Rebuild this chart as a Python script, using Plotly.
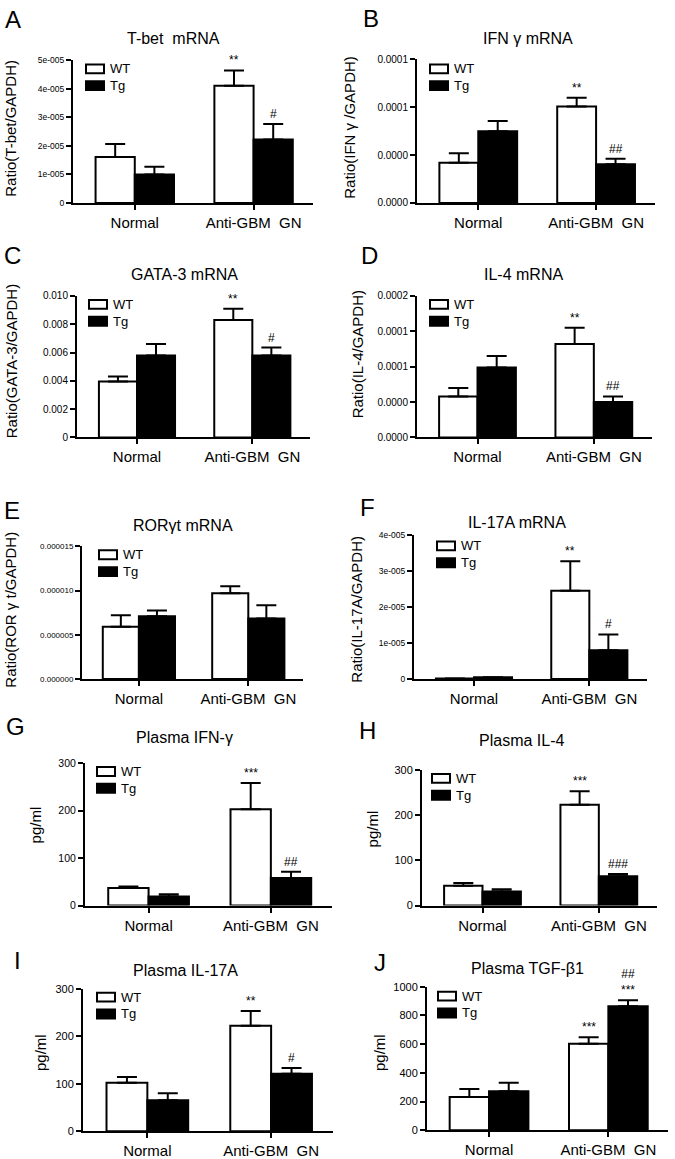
import plotly.graph_objects as go

W, H = 675, 1159

categories = ["Normal", "Anti-GBM\u00a0 GN"]

# ---- data ----
tbet_wt = [1.61e-5, 4.11e-5]; tbet_wt_err = [0.46e-5, 0.54e-5]
tbet_tg = [1.00e-5, 2.23e-5]; tbet_tg_err = [0.27e-5, 0.54e-5]
tbet_sig_wt = ["", "**"]; tbet_sig_tg = ["", "#"]

ifng_wt = [3.37e-5, 8.07e-5]; ifng_wt_err = [0.78e-5, 0.72e-5]
ifng_tg = [6.00e-5, 3.23e-5]; ifng_tg_err = [0.86e-5, 0.47e-5]
ifng_sig_wt = ["", "**"]; ifng_sig_tg = ["", "##"]

gata3_wt = [0.00396, 0.0083]; gata3_wt_err = [0.00035, 0.0008]
gata3_tg = [0.0058, 0.0058]; gata3_tg_err = [0.0008, 0.00055]
gata3_sig_wt = ["", "**"]; gata3_sig_tg = ["", "#"]

il4m_wt = [5.8e-5, 1.32e-4]; il4m_wt_err = [1.2e-5, 2.3e-5]
il4m_tg = [9.9e-5, 5.0e-5]; il4m_tg_err = [1.6e-5, 0.8e-5]
il4m_sig_wt = ["", "**"]; il4m_sig_tg = ["", "##"]

rorgt_wt = [5.9e-6, 9.7e-6]; rorgt_wt_err = [1.3e-6, 0.8e-6]
rorgt_tg = [7.1e-6, 6.85e-6]; rorgt_tg_err = [0.65e-6, 1.5e-6]
rorgt_sig_wt = ["", ""]; rorgt_sig_tg = ["", ""]

il17m_wt = [1e-7, 2.46e-5]; il17m_wt_err = [0.0, 0.82e-5]
il17m_tg = [5e-7, 0.80e-5]; il17m_tg_err = [0.0, 0.44e-5]
il17m_sig_wt = ["", "**"]; il17m_sig_tg = ["", "#"]

pifng_wt = [37, 203]; pifng_wt_err = [3, 55]
pifng_tg = [19, 58]; pifng_tg_err = [5, 13]
pifng_sig_wt = ["", "***"]; pifng_sig_tg = ["", "##"]

pil4_wt = [44, 223]; pil4_wt_err = [6, 30]
pil4_tg = [31, 65]; pil4_tg_err = [5, 5]
pil4_sig_wt = ["", "***"]; pil4_sig_tg = ["", "###"]

pil17_wt = [102, 222]; pil17_wt_err = [12, 31]
pil17_tg = [65, 121]; pil17_tg_err = [15, 12]
pil17_sig_wt = ["", "**"]; pil17_sig_tg = ["", "#"]

ptgf_wt = [232, 602]; ptgf_wt_err = [55, 46]
ptgf_tg = [271, 864]; ptgf_tg_err = [60, 42]
ptgf_sig_wt = ["", "***"]; ptgf_sig_tg = ["", "##<br>***"]

# ---- tick labels ----
tbet_ticks = [0, 1e-5, 2e-5, 3e-5, 4e-5, 5e-5]
tbet_labels = ["0", "1e-005", "2e-005", "3e-005", "4e-005", "5e-005"]
ifng_ticks = [0, 4e-5, 8e-5, 1.2e-4]
ifng_labels = ["0.0000", "0.0000", "0.0001", "0.0001"]
gata3_ticks = [0, 0.002, 0.004, 0.006, 0.008, 0.010]
gata3_labels = ["0", "0.002", "0.004", "0.006", "0.008", "0.010"]
il4m_ticks = [0, 5e-5, 1e-4, 1.5e-4, 2e-4]
il4m_labels = ["0.0000", "0.0000", "0.0001", "0.0001", "0.0002"]
rorgt_ticks = [0, 5e-6, 1e-5, 1.5e-5]
rorgt_labels = ["0.000000", "0.000005", "0.000010", "0.000015"]
il17m_ticks = [0, 1e-5, 2e-5, 3e-5, 4e-5]
il17m_labels = ["0", "1e-005", "2e-005", "3e-005", "4e-005"]
pg300_ticks = [0, 100, 200, 300]
pg300_labels = ["0", "100", "200", "300"]
pg1000_ticks = [0, 200, 400, 600, 800, 1000]
pg1000_labels = ["0", "200", "400", "600", "800", "1000"]

FONT = "Liberation Sans, Arial, sans-serif"

panels = [
    dict(letter="A", title="T-bet\u00a0 mRNA", ytitle="Ratio(T-bet/GAPDH)",
         wt=tbet_wt, wte=tbet_wt_err, tg=tbet_tg, tge=tbet_tg_err, swt=tbet_sig_wt, stg=tbet_sig_tg,
         ymax=5e-5, tv=tbet_ticks, tt=tbet_labels, tf=8.5,
         box=(73, 313, 55, 199), lxy=(13, 14), txy=(173, 33), yxy=(11, 124), leg=(86, 59)),
    dict(letter="B", title="IFN γ mRNA", ytitle="Ratio(IFN γ /GAPDH)",
         wt=ifng_wt, wte=ifng_wt_err, tg=ifng_tg, tge=ifng_tg_err, swt=ifng_sig_wt, stg=ifng_sig_tg,
         ymax=1.2e-4, tv=ifng_ticks, tt=ifng_labels, tf=10,
         box=(417, 655, 54, 199), lxy=(371, 13), txy=(528, 33), yxy=(350, 123), leg=(430, 59)),
    dict(letter="C", title="GATA-3 mRNA", ytitle="Ratio(GATA-3/GAPDH)",
         wt=gata3_wt, wte=gata3_wt_err, tg=gata3_tg, tge=gata3_tg_err, swt=gata3_sig_wt, stg=gata3_sig_tg,
         ymax=0.010, tv=gata3_ticks, tt=gata3_labels, tf=10,
         box=(77, 310, 293, 436), lxy=(12, 252), txy=(184, 271), yxy=(11, 359), leg=(89, 297)),
    dict(letter="D", title="IL-4 mRNA", ytitle="Ratio(IL-4/GAPDH)",
         wt=il4m_wt, wte=il4m_wt_err, tg=il4m_tg, tge=il4m_tg_err, swt=il4m_sig_wt, stg=il4m_sig_tg,
         ymax=2e-4, tv=il4m_ticks, tt=il4m_labels, tf=10,
         box=(417, 652, 293, 436), lxy=(369, 252), txy=(523, 271), yxy=(357, 352), leg=(430, 297)),
    dict(letter="E", title="RORγt mRNA", ytitle="Ratio(ROR γ t/GAPDH)",
         wt=rorgt_wt, wte=rorgt_wt_err, tg=rorgt_tg, tge=rorgt_tg_err, swt=rorgt_sig_wt, stg=rorgt_sig_tg,
         ymax=1.5e-5, tv=rorgt_ticks, tt=rorgt_labels, tf=8,
         box=(82, 303, 546, 680), lxy=(12, 510), txy=(183, 525), yxy=(11, 610), leg=(99, 550)),
    dict(letter="F", title="IL-17A mRNA", ytitle="Ratio(IL-17A/GAPDH)",
         wt=il17m_wt, wte=il17m_wt_err, tg=il17m_tg, tge=il17m_tg_err, swt=il17m_sig_wt, stg=il17m_sig_tg,
         ymax=4e-5, tv=il17m_ticks, tt=il17m_labels, tf=8.5,
         box=(414, 647, 535, 680), lxy=(367, 507), txy=(517, 522), yxy=(357, 610), leg=(437, 541)),
    dict(letter="G", title="Plasma IFN-γ", ytitle="pg/ml",
         wt=pifng_wt, wte=pifng_wt_err, tg=pifng_tg, tge=pifng_tg_err, swt=pifng_sig_wt, stg=pifng_sig_tg,
         ymax=300, tv=pg300_ticks, tt=pg300_labels, tf=10.5,
         box=(85, 332, 765, 909), lxy=(15, 728), txy=(184, 739), yxy=(35, 828), leg=(97, 769)),
    dict(letter="H", title="Plasma IL-4", ytitle="pg/ml",
         wt=pil4_wt, wte=pil4_wt_err, tg=pil4_tg, tge=pil4_tg_err, swt=pil4_sig_wt, stg=pil4_sig_tg,
         ymax=300, tv=pg300_ticks, tt=pg300_labels, tf=11,
         box=(422, 657, 772, 909), lxy=(367, 732), txy=(521, 742), yxy=(372, 832), leg=(432, 776)),
    dict(letter="I", title="Plasma IL-17A", ytitle="pg/ml",
         wt=pil17_wt, wte=pil17_wt_err, tg=pil17_tg, tge=pil17_tg_err, swt=pil17_sig_wt, stg=pil17_sig_tg,
         ymax=300, tv=pg300_ticks, tt=pg300_labels, tf=11,
         box=(83, 333, 993, 1137), lxy=(17, 964), txy=(185, 975), yxy=(40, 1058), leg=(97, 997)),
    dict(letter="J", title="Plasma TGF-β1", ytitle="pg/ml",
         wt=ptgf_wt, wte=ptgf_wt_err, tg=ptgf_tg, tge=ptgf_tg_err, swt=ptgf_sig_wt, stg=ptgf_sig_tg,
         ymax=1000, tv=pg1000_ticks, tt=pg1000_labels, tf=11,
         box=(427, 668, 991, 1136), lxy=(380, 967), txy=(527, 973), yxy=(379, 1058), leg=(438, 996)),
]

BARGAP = 0.34
OFF = (1 - BARGAP) / 4  # centre offset of each bar within its group


def px(x):
    return x / W


def py(y):
    return 1 - y / H


fig = go.Figure()
annotations = []
shapes = []
layout = {}

for i, p in enumerate(panels):
    n = "" if i == 0 else str(i + 1)
    xref, yref = "x" + n, "y" + n
    x0, x1, y0, y1 = p["box"]
    xpos = list(range(len(categories)))

    fig.add_trace(go.Bar(
        x=xpos, y=p["wt"], xaxis=xref, yaxis=yref, name="WT", offsetgroup="wt",
        marker=dict(color="white", line=dict(color="black", width=2)),
        error_y=dict(type="data", symmetric=False, array=p["wte"], arrayminus=[0] * len(xpos),
                     color="black", thickness=2, width=10),
        showlegend=False, hoverinfo="skip"))
    fig.add_trace(go.Bar(
        x=xpos, y=p["tg"], xaxis=xref, yaxis=yref, name="Tg", offsetgroup="tg",
        marker=dict(color="black", line=dict(color="black", width=2)),
        error_y=dict(type="data", symmetric=False, array=p["tge"], arrayminus=[0] * len(xpos),
                     color="black", thickness=2, width=10),
        showlegend=False, hoverinfo="skip"))

    layout["xaxis" + n] = dict(
        domain=[px(x0), px(x1)], anchor=yref, range=[-0.52, 1.5],
        tickvals=xpos, ticktext=categories, ticks="outside", ticklen=5, tickwidth=2,
        tickcolor="black", showline=True, linecolor="black", linewidth=2,
        showgrid=False, zeroline=False, tickfont=dict(size=15, color="black", family=FONT),
        fixedrange=True)
    layout["yaxis" + n] = dict(
        domain=[py(y1), py(y0)], anchor=xref, range=[0, p["ymax"]],
        tickvals=p["tv"], ticktext=p["tt"], ticks="outside", ticklen=5, tickwidth=2,
        tickcolor="black", showline=True, linecolor="black", linewidth=2,
        showgrid=False, zeroline=False, tickfont=dict(size=p["tf"], color="black", family=FONT),
        fixedrange=True)

    # significance marks
    for j in xpos:
        if p["swt"][j]:
            annotations.append(dict(x=j - OFF, y=p["wt"][j] + p["wte"][j], xref=xref, yref=yref,
                                    text=p["swt"][j], showarrow=False, yanchor="bottom", yshift=1,
                                    font=dict(size=12, color="black", family=FONT)))
        if p["stg"][j]:
            annotations.append(dict(x=j + OFF, y=p["tg"][j] + p["tge"][j], xref=xref, yref=yref,
                                    text=p["stg"][j], showarrow=False, yanchor="bottom", yshift=1,
                                    font=dict(size=12, color="black", family=FONT)))

    # panel letter, title, y title
    lx, ly = p["lxy"]
    annotations.append(dict(x=px(lx), y=py(ly), xref="paper", yref="paper", text=p["letter"],
                            showarrow=False, xanchor="center", yanchor="middle",
                            font=dict(size=24, color="black", family=FONT)))
    tx, ty = p["txy"]
    annotations.append(dict(x=px(tx), y=py(ty), xref="paper", yref="paper", text=p["title"],
                            showarrow=False, xanchor="center", yanchor="middle",
                            font=dict(size=16, color="black", family=FONT)))
    yx, yy = p["yxy"]
    annotations.append(dict(x=px(yx), y=py(yy), xref="paper", yref="paper", text=p["ytitle"],
                            showarrow=False, xanchor="center", yanchor="middle", textangle=-90,
                            font=dict(size=15, color="black", family=FONT)))

    # legend (swatches + labels)
    gx, gy = p["leg"]
    for k, (lab, col) in enumerate([("WT", "white"), ("Tg", "black")]):
        top = gy + k * 17
        shapes.append(dict(type="rect", xref="paper", yref="paper",
                           x0=px(gx), x1=px(gx + 18), y0=py(top + 9), y1=py(top),
                           fillcolor=col, line=dict(color="black", width=2)))
        annotations.append(dict(x=px(gx + 22), y=py(top + 4.5), xref="paper", yref="paper",
                                text=lab, showarrow=False, xanchor="left", yanchor="middle",
                                font=dict(size=13, color="black", family=FONT)))

fig.update_layout(
    width=W, height=H, margin=dict(l=0, r=0, t=0, b=0),
    paper_bgcolor="white", plot_bgcolor="white",
    barmode="group", bargap=BARGAP, bargroupgap=0,
    annotations=annotations, shapes=shapes, showlegend=False,
    font=dict(family=FONT, color="black"),
    **layout)

fig.write_html(
    "out.html",
    config={"displayModeBar": False},
    post_script="document.body.style.margin='0';document.body.style.overflow='hidden';",
)
